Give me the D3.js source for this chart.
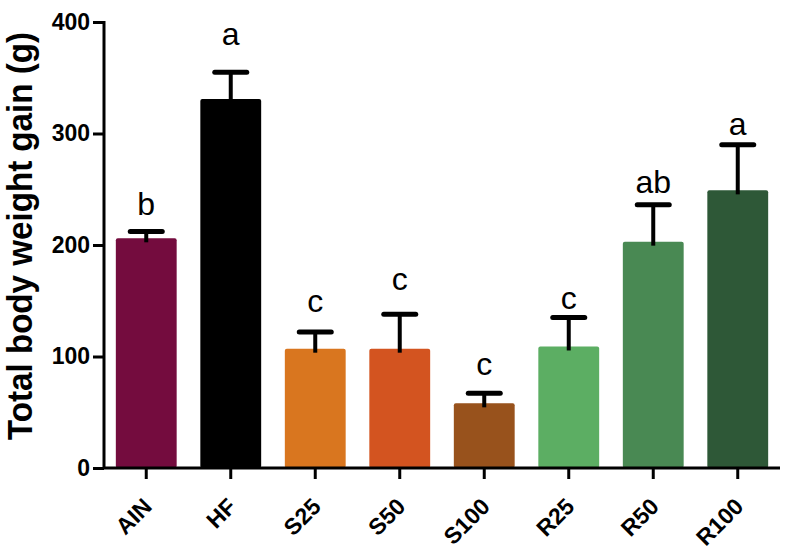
<!DOCTYPE html>
<html>
<head>
<script src="https://cdn.jsdelivr.net/npm/d3@7"></script>
<style>
  body { margin: 0; background: #fff; }
  text { font-family: Arial, "Liberation Sans", sans-serif; }
</style>
</head>
<body>
<script>
// data
var groups = ["AIN", "HF", "S25", "S50", "S100", "R25", "R50", "R100"];
var means = [206, 331, 107, 107, 58, 109, 203, 249];
var errTop = [212, 355, 122, 138, 67, 135, 236, 290];
var letters = ["b", "a", "c", "c", "c", "c", "ab", "a"];
var letterAt = [227, 379, 140, 160, 83, 143, 247, 299];
var colors = ["#740C3E", "#000000", "#D9761F", "#D35420", "#98521C", "#5CAE63", "#498953", "#2E5837"];
var yTicks = [0, 100, 200, 300, 400];

var W = 791, H = 553;
var plotLeft = 104, plotRight = 780, plotTop = 22, plotBottom = 468;

var svg = d3.select("body").append("svg")
  .attr("width", W)
  .attr("height", H);

var x = d3.scaleBand().domain(groups).range([plotLeft, plotRight]).paddingInner(0.28).paddingOuter(0.14);
var y = d3.scaleLinear().domain([0, 400]).range([plotBottom, plotTop]);

// bars
svg.selectAll("rect.bar").data(groups).enter().append("rect")
  .attr("class", "bar")
  .attr("x", function(d) { return x(d); })
  .attr("y", function(d, i) { return y(means[i]); })
  .attr("width", x.bandwidth())
  .attr("height", function(d, i) { return y(0) - y(means[i]); })
  .attr("rx", 2)
  .attr("fill", function(d, i) { return colors[i]; });

// error bars + letters
var capW = 32;
groups.forEach(function(g, i) {
  var cx = x(g) + x.bandwidth() / 2;
  svg.append("line")
    .attr("x1", cx).attr("x2", cx)
    .attr("y1", y(means[i]) + 4).attr("y2", y(errTop[i]))
    .attr("stroke", "#000").attr("stroke-width", 4);
  svg.append("line")
    .attr("x1", cx - capW / 2).attr("x2", cx + capW / 2)
    .attr("y1", y(errTop[i])).attr("y2", y(errTop[i]))
    .attr("stroke", "#000").attr("stroke-width", 5)
    .attr("stroke-linecap", "round");
  svg.append("text")
    .attr("x", cx).attr("y", y(letterAt[i]))
    .attr("text-anchor", "middle")
    .style("font-size", "32px")
    .text(letters[i]);
});

// y axis
var yAxis = svg.append("g")
  .attr("transform", "translate(" + plotLeft + ",0)")
  .call(d3.axisLeft(y).tickValues(yTicks).tickSize(11).tickPadding(3));
yAxis.select(".domain").attr("stroke-width", 3).attr("d", "M0," + (plotTop - 1) + "V" + plotBottom);
yAxis.selectAll(".tick line").attr("stroke-width", 3);
yAxis.selectAll(".tick text")
  .attr("fill", "#000")
  .style("font-size", "23px").style("font-weight", "bold")
  .style("font-family", "Arial, 'Liberation Sans', sans-serif");

// x axis
var xAxis = svg.append("g")
  .attr("transform", "translate(0," + plotBottom + ")")
  .call(d3.axisBottom(x).tickSize(11).tickSizeOuter(0));
xAxis.select(".domain").attr("stroke-width", 3).attr("d", "M" + (plotLeft - 1) + ",0H" + plotRight);
xAxis.selectAll(".tick line").attr("stroke-width", 3);
xAxis.selectAll(".tick text")
  .attr("fill", "#000")
  .style("font-size", "23px").style("font-weight", "bold")
  .style("font-family", "Arial, 'Liberation Sans', sans-serif")
  .attr("text-anchor", "end")
  .attr("y", 0).attr("dy", 0)
  .attr("transform", "translate(7,40) rotate(-45)");

// y title
svg.append("text")
  .attr("transform", "translate(32,236) rotate(-90)")
  .attr("text-anchor", "middle")
  .style("font-size", "35px")
  .style("font-weight", "bold")
  .attr("textLength", 408)
  .attr("lengthAdjust", "spacingAndGlyphs")
  .text("Total body weight gain (g)");
</script>
</body>
</html>
